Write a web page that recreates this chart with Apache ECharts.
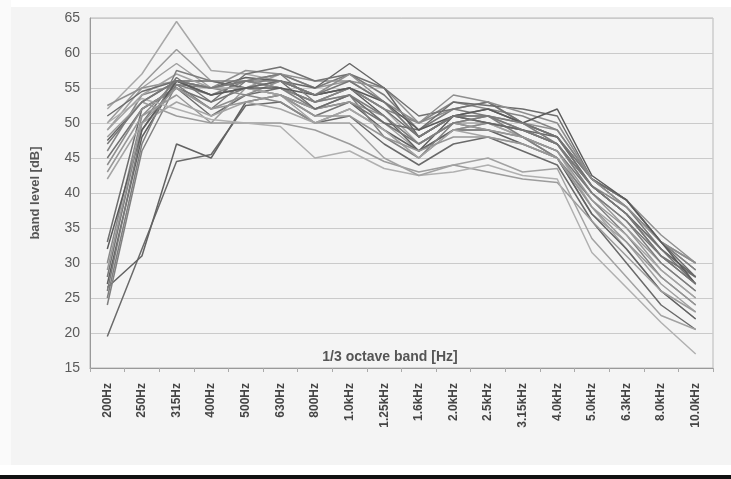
<!DOCTYPE html>
<html>
<head>
<meta charset="utf-8">
<script src="https://cdn.jsdelivr.net/npm/echarts@6/dist/echarts.min.js"></script>
<style>
html,body{margin:0;padding:0;background:#fff;}
#chart{width:731px;height:479px;}
</style>
</head>
<body>
<div id="chart"></div>
<script>
const categories = ['200Hz','250Hz','315Hz','400Hz','500Hz','630Hz','800Hz','1.0kHz','1.25kHz','1.6kHz','2.0kHz','2.5kHz','3.15kHz','4.0kHz','5.0kHz','6.3kHz','8.0kHz','10.0kHz'];
const yTicks = [15,20,25,30,35,40,45,50,55,60,65];

const s01 = [52, 57, 64.5, 57.5, 57, 56, 54, 55, 52, 47, 50, 50, 48, 46, 38, 32, 26, 22];
const s02 = [50, 55.5, 60.5, 56, 55, 57, 55, 56, 53, 48, 51, 51, 49, 47, 40, 35, 29, 25];
const s03 = [49, 55, 58.5, 55, 56, 55, 53, 54, 50, 46, 49, 50, 48, 45, 37, 33, 27, 23];
const s04 = [19.5, 32, 44.5, 45.5, 52.5, 53, 50, 51, 47, 44, 47, 48, 46, 44, 36, 30, 24, 20.5];
const s05 = [26.5, 31, 47, 45, 53, 54, 52, 53, 49, 46, 49, 49, 47, 45, 37, 32, 26, 22];
const s06 = [24, 46, 55.5, 54, 56, 55, 52, 54, 48, 45, 50, 51, 48, 45, 39, 34, 28, 24];
const s07 = [27, 48, 56, 55, 56.5, 56, 54, 55, 51, 46, 51, 50, 49, 47, 41, 37, 31, 27];
const s08 = [28, 50, 56.5, 53, 55, 54, 51, 53, 50, 47, 50, 49, 48, 46, 40, 36, 31, 28];
const s09 = [30, 51, 56, 55, 54, 53, 50, 52, 49, 45, 49, 50, 49, 47, 41, 38, 33, 30];
const s10 = [33, 52, 55, 51, 54, 55, 53, 55, 52, 48, 51, 52, 50, 48, 42, 39, 33, 29];
const s11 = [26, 49, 55.5, 52, 56, 57, 55, 57, 54, 49, 52, 51, 50, 48, 42, 38, 32, 28];
const s12 = [52.5, 55, 56, 55, 57.5, 57, 56, 56, 55, 50, 52, 53, 50, 49, 42, 39, 34, 30];
const s13 = [47.5, 53, 56, 56, 55, 56, 55, 58.5, 55, 48, 51, 50, 49, 48, 41, 37, 32, 28];
const s14 = [46, 54, 55.5, 55, 56, 55, 53, 55, 52, 50, 53, 52, 51, 49, 42, 38, 33, 29];
const s15 = [45, 52, 55, 53, 57, 58, 56, 57, 55, 51, 52, 53, 50, 48, 41, 37, 32, 27];
const s16 = [43, 51, 54, 50, 55, 54, 52, 53, 51, 47, 50, 49, 48, 46, 39, 35, 30, 26];
const s17 = [42, 50, 53, 51, 53, 52, 50, 52, 49, 45, 49, 48, 47, 45, 38, 34, 29, 25];
const s18 = [48, 53, 51, 50, 50, 50, 49, 47, 44.5, 43, 44, 43, 42, 41.5, 36, 31, 26, 23];
const s19 = [50, 53.5, 52, 50.5, 50, 49.5, 45, 46, 43.5, 42.5, 43, 44, 42.5, 42, 31.5, 26.5, 21.5, 17];
const s20 = [49, 54, 57, 55, 55, 54, 50, 50, 45, 42.5, 44, 45, 43, 43.5, 33.5, 28, 22.5, 20.5];
const s21 = [51, 54.5, 56, 54, 55, 56, 52, 54, 50, 49, 53, 52.5, 52, 51, 42, 39, 33, 28];
const s22 = [44, 52, 55, 52, 54, 56, 54, 57, 53, 50, 54, 53, 51.5, 50, 42, 38, 33, 30];
const s23 = [32, 49, 56, 54, 55, 55, 54, 55, 53, 49, 51, 52, 50, 52, 42.5, 39, 33, 27];
const s24 = [25, 47, 57.5, 56, 56, 57, 53, 54, 51, 47, 50, 51, 50, 47, 40, 36, 30, 26];
const s25 = [29, 50, 55, 52, 53, 54, 51, 51, 48, 46, 48, 48, 47, 45, 38, 33, 28, 24];
const s26 = [47, 53, 56, 55, 56, 56, 54, 56, 53, 48, 51, 51, 49, 47, 41, 37, 31, 27];

const allSeries = [s01,s02,s03,s04,s05,s06,s07,s08,s09,s10,s11,s12,s13,s14,s15,s16,s17,s18,s19,s20,s21,s22,s23,s24,s25,s26];
const grays = ['#a8a8a8','#9a9a9a','#a0a0a0','#6a6a6a','#626262','#808080','#5e5e5e','#757575','#8a8a8a','#6e6e6e','#7a7a7a','#909090','#666666','#858585','#727272','#989898','#a5a5a5','#9c9c9c','#b0b0b0','#a2a2a2','#6c6c6c','#8e8e8e','#5a5a5a','#7e7e7e','#969696','#787878'];

const chart = echarts.init(document.getElementById('chart'), null, {renderer:'canvas'});
chart.setOption({
  backgroundColor: '#f4f4f4',
  animation: false,
  grid: {left: 90, right: 18, top: 18, bottom: 111, show: true, borderColor: '#b8b8b8', borderWidth: 1, backgroundColor: 'transparent'},
  xAxis: {
    type: 'category', data: categories, boundaryGap: true,
    axisLine: {lineStyle: {color: '#999'}},
    axisTick: {show: true, length: 4, lineStyle: {color: '#aaa'}},
    axisLabel: {rotate: 90, fontSize: 12, fontWeight: 'bold', color: '#444', fontFamily: 'Liberation Sans', margin: 15}
  },
  yAxis: {
    type: 'value', min: 15, max: 65, interval: 5,
    name: 'band level [dB]', nameLocation: 'middle', nameGap: 48,
    nameTextStyle: {fontSize: 13, fontWeight: 'bold', color: '#555', fontFamily: 'Liberation Sans'},
    axisLine: {show: true, lineStyle: {color: '#999'}},
    axisTick: {show: false},
    axisLabel: {fontSize: 14, color: '#5a5a5a', fontFamily: 'Liberation Sans', margin: 10,
      formatter: v => yTicks.includes(v) ? String(v) : ''},
    splitLine: {lineStyle: {color: '#cacaca', width: 1.2}}
  },
  graphic: [
    {type: 'rect', shape: {x: 0, y: 0, width: 731, height: 7}, style: {fill: '#fff'}, z: -1},
    {type: 'rect', shape: {x: 0, y: 0, width: 11, height: 479}, style: {fill: '#fafafa'}, z: -1},
    {type: 'rect', shape: {x: 0, y: 465, width: 731, height: 10}, style: {fill: '#fff'}},
    {type: 'rect', shape: {x: 0, y: 475, width: 731, height: 4}, style: {fill: '#111'}},
    {type: 'text', x: 390, y: 357, style: {text: '1/3 octave band [Hz]', fontSize: 14, fontWeight: 'bold', fill: '#555', fontFamily: 'Liberation Sans', textAlign: 'center', textVerticalAlign: 'middle'}}
  ],
  series: allSeries.map((d, i) => ({
    type: 'line', data: d, symbol: 'none', smooth: false,
    lineStyle: {width: 1.5, color: grays[i % grays.length]}
  }))
});
</script>
</body>
</html>
